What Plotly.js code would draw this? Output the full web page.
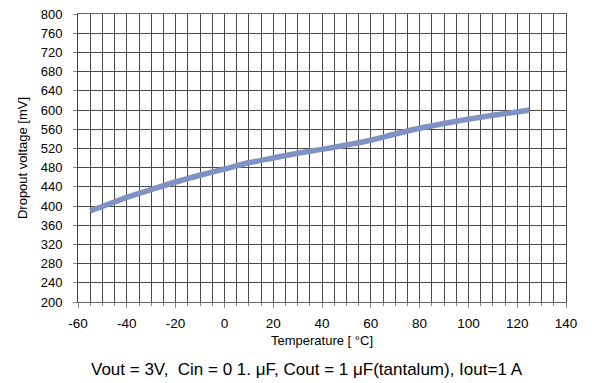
<!DOCTYPE html>
<html>
<head>
<meta charset="utf-8">
<script src="https://cdn.plot.ly/plotly-3.0.1.min.js"></script>
<style>
  html, body { margin: 0; padding: 0; background: #ffffff; }
  #chart { width: 592px; height: 383px; }
</style>
</head>
<body>
<div id="chart"></div>
<script>
// Dropout voltage versus ambient temperature
const temperatureC = [-55, -50, -40, -30, -20, -10, 0, 10, 20, 30, 40, 50, 60, 70, 80, 90, 100, 110, 120, 125];
const dropoutMv    = [390, 399, 418, 434, 450, 464, 477, 490, 500, 510, 518, 527, 537, 550, 562, 572, 581, 589, 596, 600];

const xTickValues = [-60, -40, -20, 0, 20, 40, 60, 80, 100, 120, 140];
const yTickValues = [200, 240, 280, 320, 360, 400, 440, 480, 520, 560, 600, 640, 680, 720, 760, 800];

const xTitle = 'Temperature [ °C]';
const yTitle = 'Dropout voltage [mV]';
const conditions = 'Vout = 3V,  Cin = 0 1. μF, Cout = 1 μF(tantalum), Iout=1 A';

const gridColor = '#4a4a4a';
const fontFamily = '"Liberation Sans", Arial, sans-serif';

const trace = {
  x: temperatureC,
  y: dropoutMv,
  type: 'scatter',
  mode: 'lines',
  line: { color: '#7f92c3', width: 5.5, shape: 'spline', smoothing: 0.6 },
  hoverinfo: 'skip'
};

const layout = {
  width: 592,
  height: 383,
  margin: { l: 78, r: 26, t: 14, b: 81 },
  paper_bgcolor: '#ffffff',
  plot_bgcolor: '#ffffff',
  showlegend: false,
  font: { family: fontFamily, color: '#000000', size: 13 },
  xaxis: {
    range: [-60, 140],
    tickmode: 'array',
    tickvals: xTickValues,
    ticktext: xTickValues.map(String),
    ticks: 'outside',
    ticklen: 5,
    tickcolor: '#888888',
    ticklabelstandoff: 4,
    tickfont: { size: 13.5, family: fontFamily },
    showgrid: true,
    gridcolor: gridColor,
    gridwidth: 1,
    minor: { dtick: 5, tick0: -60, showgrid: true, gridcolor: gridColor, gridwidth: 1, ticks: 'outside', ticklen: 3, tickcolor: '#888888' },
    showline: true,
    linecolor: '#666666',
    linewidth: 1,
    mirror: true,
    zeroline: false,
    title: { text: xTitle, font: { size: 13, family: fontFamily }, standoff: 5 }
  },
  yaxis: {
    range: [200, 800],
    tickmode: 'array',
    tickvals: yTickValues,
    ticktext: yTickValues.map(String),
    ticks: 'outside',
    ticklen: 4,
    tickcolor: '#888888',
    ticklabelstandoff: 8,
    tickfont: { size: 13, family: fontFamily },
    showgrid: true,
    gridcolor: gridColor,
    gridwidth: 1,
    showline: true,
    linecolor: '#444444',
    linewidth: 1,
    mirror: true,
    zeroline: false,
    title: { text: yTitle, font: { size: 13, family: fontFamily }, standoff: 10 }
  },
  annotations: [{
    text: conditions,
    xref: 'paper', yref: 'paper',
    x: 0.47, y: -0.235,
    xanchor: 'center', yanchor: 'middle',
    showarrow: false,
    font: { size: 17, family: fontFamily, color: '#000000' }
  }]
};

Plotly.newPlot('chart', [trace], layout, { staticPlot: true, displayModeBar: false });
</script>
</body>
</html>
